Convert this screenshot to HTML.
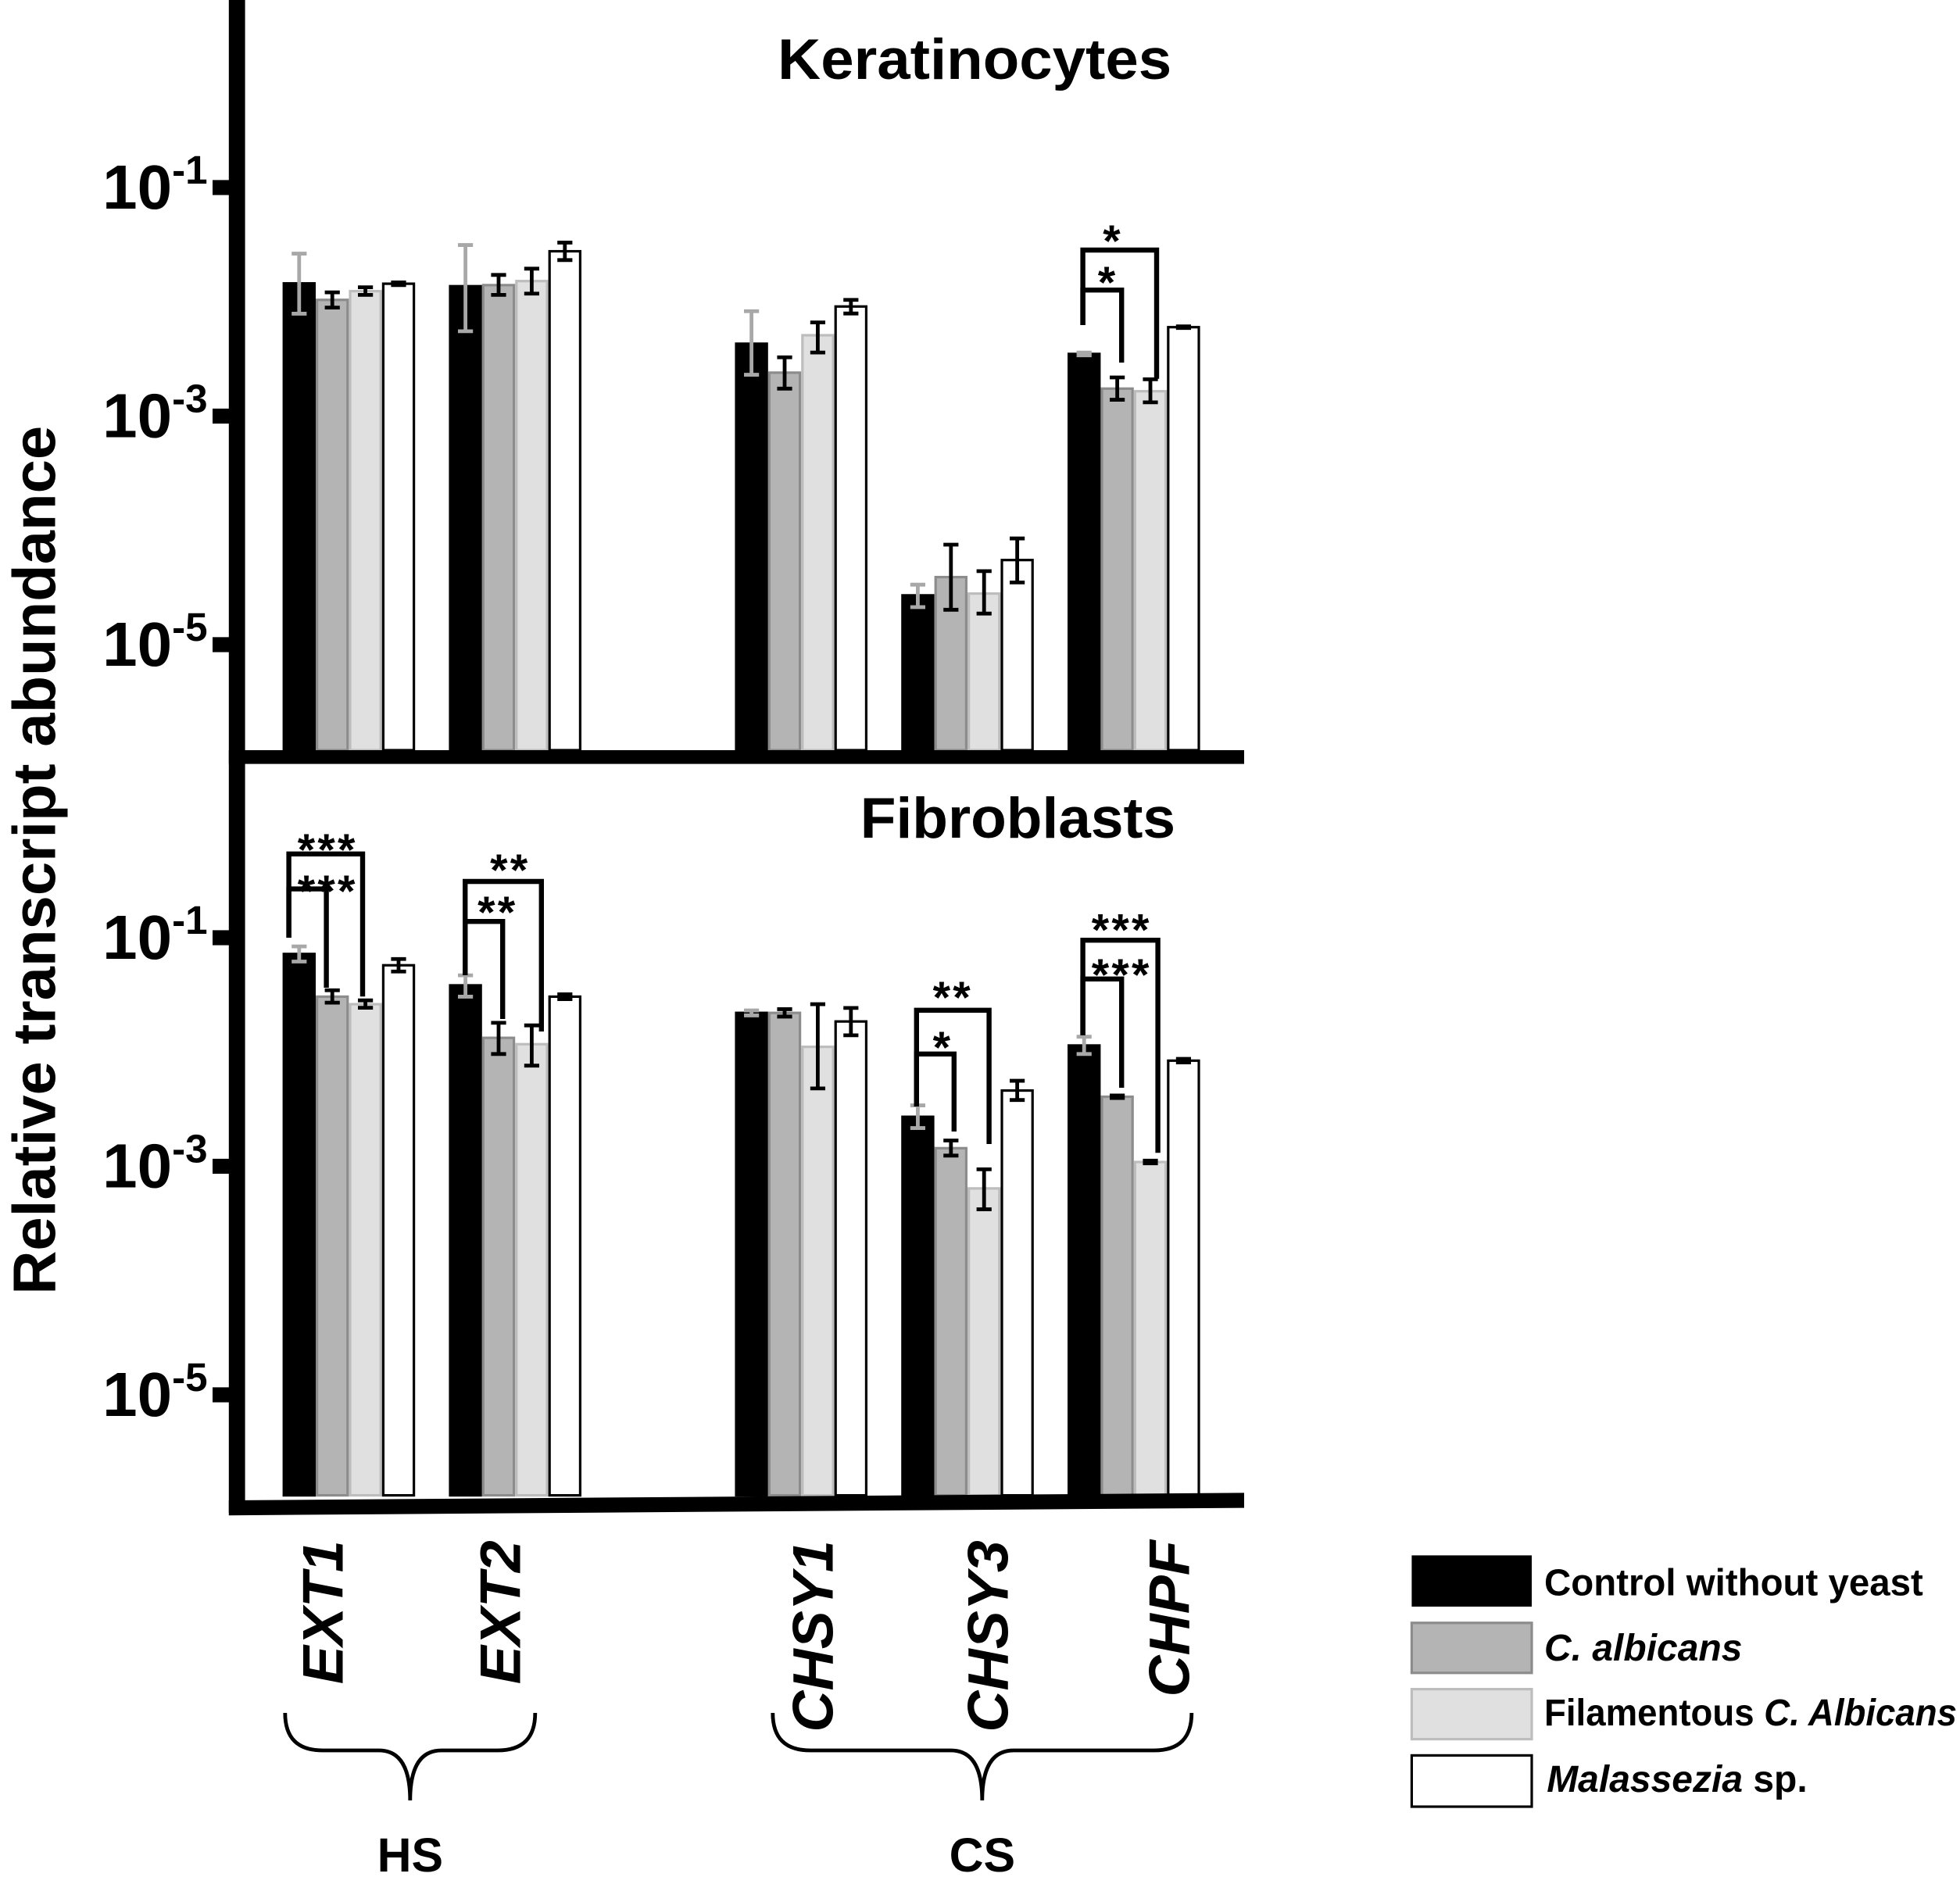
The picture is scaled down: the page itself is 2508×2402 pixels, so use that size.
<!DOCTYPE html>
<html><head><meta charset="utf-8"><style>html,body{margin:0;padding:0;background:#fff}svg{display:block}text{font-family:"Liberation Sans",sans-serif;font-weight:bold}</style></head>
<body>
<svg id="chart" width="2508" height="2402" viewBox="0 0 1567.5 1501.25" xmlns="http://www.w3.org/2000/svg"></svg>
<script>
const genes = ["EXT1","EXT2","CHSY1","CHSY3","CHPF"];
const seriesNames = ["Control without yeast","C. albicans","Filamentous C. Albicans","Malassezia sp."];
const tickExps = [-1,-3,-5];
// Keratinocytes: values, upper, lower per series [gene]
const kerVal = [[0.0145,0.0137,0.0043,2.7e-5,0.0035],[0.0104,0.014,0.0024,3.9e-5,0.00174],[0.0124,0.0152,0.0051,2.8e-5,0.00165],[0.0144,0.0277,0.0091,5.5e-5,0.006]];
const kerHi = [[0.0264,0.0314,0.00828,3.35e-5,0.0036],[0.0121,0.0172,0.00327,7.5e-5,0.00218],[0.0134,0.0195,0.0066,4.4e-5,0.00210],[0.0148,0.033,0.0104,8.5e-5,0.0061]];
const kerLo = [[0.00787,0.00553,0.0023,2.13e-5,0.0034],[0.0089,0.0115,0.00174,2.02e-5,0.00139],[0.0115,0.0118,0.0036,1.87e-5,0.00132],[0.0140,0.0232,0.0079,3.5e-5,0.0059]];
// Fibroblasts
const fibVal = [[0.0721,0.0383,0.0220,0.00271,0.0114],[0.0305,0.0133,0.0220,0.00144,0.00406],[0.0262,0.0117,0.0111,0.00064,0.00109],[0.0574,0.0305,0.0185,0.0046,0.0084]];
const fibHi = [[0.0839,0.0469,0.0231,0.00341,0.0136],[0.0347,0.0180,0.0237,0.00168,0.00416],[0.0283,0.0171,0.0262,0.00094,0.00112],[0.0651,0.0320,0.0243,0.0056,0.0087]];
const fibLo = [[0.0619,0.0305,0.0209,0.00216,0.0096],[0.0270,0.0096,0.0204,0.00124,0.00396],[0.0244,0.0076,0.0048,0.00042,0.00106],[0.0506,0.0290,0.0140,0.0038,0.0081]];

const NS="http://www.w3.org/2000/svg", svg=document.getElementById('chart');
function el(tag,attrs,parent,txt){const e=document.createElementNS(NS,tag);for(const k in attrs)e.setAttribute(k,attrs[k]);if(txt!==undefined)e.textContent=txt;(parent||svg).appendChild(e);return e;}
const slots=[0,1,2.72,3.72,4.72];
const barW=26.5;
function gx(g){return 226+slots[g]*133;}
function bx(g,s){return gx(g)+s*barW;}
const fills=["#000","#b4b4b4","#e0e0e0","#fff"];
const strokes=["#000","#8c8c8c","#bdbdbd","#000"];
const errCol=["#a8a8a8","#000","#000","#000"];
const panels=[
 {name:"keratinocytes",title:"Keratinocytes",tx:622,ty:63,tl:315,y1:150,base:600,val:kerVal,hi:kerHi,lo:kerLo},
 {name:"fibroblasts",title:"Fibroblasts",tx:688,ty:670,tl:252,y1:750,base:1196,val:fibVal,hi:fibHi,lo:fibLo}
];
const dec=91.4;
panels.forEach(p=>{
 const y=v=>p.y1-(Math.log10(v)+1)*dec;
 const g=el('g',{},svg);
 
 
 const t=el('text',{x:p.tx,y:p.ty,'font-size':46,textLength:p.tl,lengthAdjust:'spacingAndGlyphs'},g,p.title);
 
 
 tickExps.forEach(e=>{
  const ty=y(Math.pow(10,e));
  const tk=el('rect',{x:170,y:ty-6,width:16,height:12,fill:'#000'},g);
  
  
  const lb=el('text',{x:166,y:ty+17,'font-size':50,'text-anchor':'end'},g);
  
  
  el('tspan',{},lb,'10');
  el('tspan',{dy:-20,'font-size':32},lb,String(e));
 });
 for(let s=0;s<4;s++)for(let gi=0;gi<5;gi++){
  const v=p.val[s][gi],top=y(v);
  const r=el('rect',{x:bx(gi,s)+1,y:top,width:barW-2,height:p.base-top,fill:fills[s],stroke:strokes[s],'stroke-width':2},g);
  
  
  const cx=bx(gi,s)+barW/2,yh=y(p.hi[s][gi]),yl=y(p.lo[s][gi]);
  const eb=el('path',{d:`M${cx-6},${yh}H${cx+6}M${cx},${yh}V${yl}M${cx-6},${yl}H${cx+6}`,stroke:errCol[s],'stroke-width':3,fill:'none'},g);
  
  
 }
});
// axes
const ya=el('rect',{x:183,y:0,width:13,height:1210,fill:'#000'});


const xa1=el('rect',{x:183,y:600,width:812,height:11,fill:'#000'});


const xa2=el('path',{d:'M183,1200 L995,1194 L995,1206 L183,1212Z',fill:'#000'});


// brackets: [x1,x2,ytop,yl,yr,label,lx,ly]
const brackets=[
 [866,925,200,260,303,"*",890,185],[866,897,232,260,290,"*",886,218],
 [231,290,683,750,797,"***",262,672],[231,261,711,750,790,"***",262,705],
 [372,433,705,780,825,"**",408,688],[372,402,737,780,815,"**",398,722],
 [733,791,808,885,915,"**",762,790],[733,763,843,885,905,"*",754,830],
 [866,926,752,828,922,"***",897,736],[866,897,783,828,870,"***",897,772]
];
brackets.forEach(b=>{
 const pth=el('path',{d:`M${b[0]},${b[3]}V${b[2]}H${b[1]}V${b[4]}`,stroke:'#000','stroke-width':4,fill:'none'});
 
 
 const st=el('text',{x:b[6],y:b[7]+20,'font-size':36,'text-anchor':'middle','letter-spacing':'2'},svg,b[5]);
 
 
});
// gene labels
const gcx=[258,400,650,790,935];
genes.forEach((gn,i)=>{
 const t=el('text',{x:0,y:0,'font-size':46,'font-style':'italic','text-anchor':'end',transform:`translate(${gcx[i]+16},1232) rotate(-90)`},svg,gn);
 
 
});
// braces
function brace(x1,x2,name,label){
 const m=(x1+x2)/2;
 const p=el('path',{d:`M${x1},1370 Q${x1},1400 ${x1+30},1400 L${m-25},1400 Q${m},1400 ${m},1440 Q${m},1400 ${m+25},1400 L${x2-30},1400 Q${x2},1400 ${x2},1370`,stroke:'#000','stroke-width':3,fill:'none'});
 
 
 const t=el('text',{x:m,y:1497,'font-size':38,'text-anchor':'middle'},svg,label);
 
 
}
brace(228,428,'hs','HS');
brace(618,953,'cs','CS');
</script>
<svg style="position:absolute;left:0;top:0" width="2508" height="2402" viewBox="0 0 1567.5 1501.25" xmlns="http://www.w3.org/2000/svg">
 <g><rect x="1129" y="1244" width="96" height="41" fill="#000"/><text x="1235" y="1276" font-size="30" textLength="303" lengthAdjust="spacingAndGlyphs">Control without yeast</text></g>
 <g><rect x="1129" y="1298" width="96" height="40" fill="#b4b4b4" stroke="#8c8c8c" stroke-width="2"/><text x="1235" y="1328" font-size="30" font-style="italic">C. albicans</text></g>
 <g><rect x="1129" y="1351" width="96" height="40" fill="#e0e0e0" stroke="#bdbdbd" stroke-width="2"/><text x="1235" y="1380" font-size="30" textLength="330" lengthAdjust="spacingAndGlyphs">Filamentous <tspan font-style="italic">C. Albicans</tspan></text></g>
 <g><rect x="1129" y="1404" width="96" height="41" fill="#fff" stroke="#000" stroke-width="2"/><text x="1237" y="1433" font-size="30"><tspan font-style="italic">Malassezia</tspan> sp.</text></g>
 <text transform="translate(44,688) rotate(-90)" font-size="48" text-anchor="middle" textLength="695" lengthAdjust="spacingAndGlyphs">Relative transcript abundance</text>
</svg>
</body></html>
